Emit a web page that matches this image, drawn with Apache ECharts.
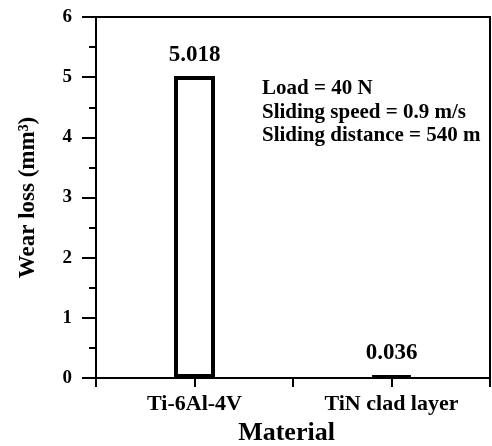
<!DOCTYPE html>
<html>
<head>
<meta charset="utf-8">
<script src="https://cdn.jsdelivr.net/npm/echarts@6/dist/echarts.min.js"></script>
<style>html,body{margin:0;padding:0;background:#fff}#c{width:492px;height:446px}</style>
</head>
<body>
<div id="c"></div>
<script>
var categories = ['Ti-6Al-4V', 'TiN clad layer'];
var wearLoss = [5.018, 0.036];
var yTicks = [0, 1, 2, 3, 4, 5, 6];
var notes = ['Load = 40 N', 'Sliding speed = 0.9 m/s', 'Sliding distance = 540 m'];

var chart = echarts.init(document.getElementById('c'), null, {renderer: 'canvas'});
var serif = '"Liberation Serif", "Times New Roman", serif';
chart.setOption({
  animation: false,
  backgroundColor: '#fff',
  grid: {left: 96, right: 2, top: 17, bottom: 68, outerBoundsMode: 'none', containLabel: false, show: true, borderColor: '#000', borderWidth: 2, backgroundColor: 'transparent'},
  xAxis: [{
    type: 'category',
    data: categories,
    position: 'bottom',
    axisLine: {show: true, lineStyle: {color: '#000', width: 2}},
    axisTick: {show: true, alignWithLabel: true, length: 9, lineStyle: {color: '#000', width: 2}},
    axisLabel: {color: '#000', fontFamily: serif, fontWeight: 'bold', fontSize: 22, margin: 15},
    name: 'Material',
    nameLocation: 'middle',
    nameGap: 41,
    nameTextStyle: {color: '#000', fontFamily: serif, fontWeight: 'bold', fontSize: 26, padding: [0, 13, 0, 0]},
    splitLine: {show: false}
  }, {
    type: 'category',
    data: categories,
    position: 'bottom',
    axisLine: {show: false},
    axisTick: {show: true, length: 9, lineStyle: {color: '#000', width: 2}},
    axisLabel: {show: false},
    splitLine: {show: false}
  }],
  yAxis: {
    type: 'value',
    min: yTicks[0],
    max: yTicks[yTicks.length - 1],
    interval: 1,
    axisLine: {show: true, lineStyle: {color: '#000', width: 2}},
    axisTick: {show: true, length: 14, lineStyle: {color: '#000', width: 2}},
    minorTick: {show: true, splitNumber: 2, length: 7, lineStyle: {color: '#000', width: 2}},
    axisLabel: {color: '#000', fontFamily: serif, fontWeight: 'bold', fontSize: 19, margin: 24},
    splitLine: {show: false},
    name: 'Wear loss (mm³)',
    nameLocation: 'middle',
    nameGap: 56,
    nameTextStyle: {color: '#000', fontFamily: serif, fontWeight: 'bold', fontSize: 23}
  },
  series: [{
    type: 'bar',
    xAxisIndex: 0,
    data: wearLoss,
    barWidth: 41,
    itemStyle: {color: '#fff', borderColor: '#000', borderWidth: 4},
    label: {
      show: true,
      position: 'top',
      distance: 10,
      color: '#000',
      fontFamily: serif,
      fontWeight: 'bold',
      fontSize: 23,
      formatter: function (p) { return String(p.value); }
    }
  }],
  graphic: [{
    type: 'text',
    left: 262,
    top: 77,
    style: {
      text: notes.join('\n'),
      fill: '#000',
      fontFamily: serif,
      fontWeight: 'bold',
      fontSize: 21,
      lineHeight: 23.5
    }
  }]
});
</script>
</body>
</html>
